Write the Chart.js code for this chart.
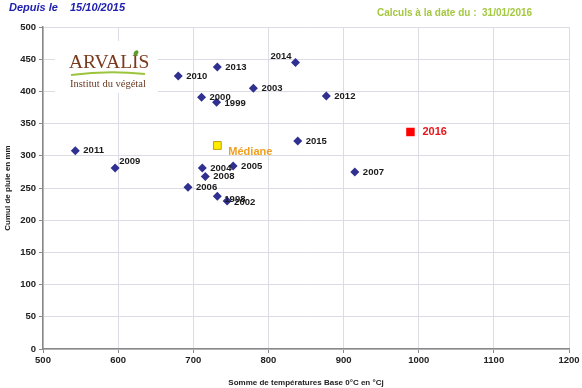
<!DOCTYPE html>
<html>
<head>
<meta charset="utf-8">
<script src="https://cdn.jsdelivr.net/npm/chart.js@4.4.1/dist/chart.umd.min.js"></script>
<style>
  html, body { margin: 0; padding: 0; background: #fff; }
  #wrap { position: relative; width: 582px; height: 388px; }
</style>
</head>
<body>
<div id="wrap"><canvas id="chart" width="582" height="388"></canvas></div>
<script>
// campagnes passees
const years = ['1998', '1999', '2000', '2002', '2003', '2004', '2005', '2006', '2007',
               '2008', '2009', '2010', '2011', '2012', '2013', '2014', '2015'];
const tempSums = [732, 731, 711, 745, 780, 712, 753, 693, 915, 716, 596, 680, 543, 877, 732, 836, 839];
const rainTotals = [237, 383, 391, 230, 405, 281, 284, 251, 275, 268, 281, 424, 308, 393, 438, 445, 323];

// mediane et campagne en cours
const medianLabel = 'Médiane';
const medianValue = [732, 316];
const currentLabel = '2016';
const currentValue = [989, 337];

const xTicks = [500, 600, 700, 800, 900, 1000, 1100, 1200];
const yTicks = [0, 50, 100, 150, 200, 250, 300, 350, 400, 450, 500];

const headerLeft = ['Depuis le', '15/10/2015'];
const headerRight = 'Calculs à la date du :  31/01/2016';

// label placement tweaks (dx, dy from the point)
const labelOffsets = {
  '1998': [7, 3], '1999': [8, 1], '2000': [8, 0], '2002': [7, 1],
  '2014': [-25, -6], '2009': [4, -7]
};

const pointsData = years.map((y, i) => ({ x: tempSums[i], y: rainTotals[i], label: y }));

const labelPlugin = {
  id: 'labels',
  afterDatasetsDraw(chart) {
    const ctx = chart.ctx;
    ctx.save();
    ctx.textBaseline = 'middle';
    ctx.textAlign = 'left';
    // yearly labels
    const meta = chart.getDatasetMeta(0);
    ctx.font = 'bold 9.5px "Liberation Sans", Arial, sans-serif';
    ctx.fillStyle = '#1a1a1a';
    meta.data.forEach((pt, i) => {
      const off = labelOffsets[years[i]] || [8, 0];
      ctx.fillText(years[i], pt.x + off[0], pt.y + off[1]);
    });
    // median
    const m = chart.getDatasetMeta(1).data[0];
    ctx.font = 'bold 11px "Liberation Sans", Arial, sans-serif';
    ctx.fillStyle = '#f0a020';
    ctx.fillText(medianLabel, m.x + 11, m.y + 6);
    // current year
    const c = chart.getDatasetMeta(2).data[0];
    ctx.fillStyle = '#e8141c';
    ctx.fillText(currentLabel, c.x + 12, c.y);
    ctx.restore();
  }
};

const decorPlugin = {
  id: 'decor',
  beforeDraw(chart) {
    const ctx = chart.ctx;
    ctx.save();
    ctx.fillStyle = '#fff';
    ctx.fillRect(0, 0, chart.width, chart.height);
    ctx.restore();
  },
  afterDraw(chart) {
    const ctx = chart.ctx;
    ctx.save();
    ctx.textBaseline = 'middle';
    // header
    ctx.font = 'italic bold 11px "Liberation Sans", Arial, sans-serif';
    ctx.fillStyle = '#2020b0';
    ctx.fillText(headerLeft[0], 9, 8);
    ctx.fillText(headerLeft[1], 70, 8);
    ctx.font = 'bold 10px "Liberation Sans", Arial, sans-serif';
    ctx.fillStyle = '#a4c840';
    ctx.fillText(headerRight, 377, 13);

    // logo
    ctx.fillStyle = '#fff';
    ctx.fillRect(55, 41, 103, 52);
    ctx.font = '19.5px "Liberation Serif", "DejaVu Serif", serif';
    ctx.fillStyle = '#7a3a1c';
    ctx.textAlign = 'left';
    ctx.fillText('ARVALIS', 69, 63);
    ctx.fillStyle = '#5a9e2a';
    ctx.beginPath();
    ctx.ellipse(136, 53, 2, 3, 0.6, 0, Math.PI * 2);
    ctx.fill();
    ctx.strokeStyle = '#9cc43c';
    ctx.lineWidth = 2;
    ctx.beginPath();
    ctx.moveTo(71, 75);
    ctx.quadraticCurveTo(108, 70, 145, 74);
    ctx.stroke();
    ctx.font = '10.5px "Liberation Serif", "DejaVu Serif", serif';
    ctx.fillStyle = '#6a3a20';
    ctx.fillText('Institut du végétal', 70, 84);
    ctx.restore();
  }
};

new Chart(document.getElementById('chart'), {
  type: 'scatter',
  data: {
    datasets: [
      {
        data: pointsData,
        pointStyle: 'rectRot',
        pointRadius: 4.5,
        backgroundColor: '#303090',
        borderColor: '#303090',
        borderWidth: 0
      },
      {
        data: [{ x: medianValue[0], y: medianValue[1] }],
        pointStyle: 'rect',
        pointRadius: 5.5,
        backgroundColor: '#ffee00',
        borderColor: '#c89a00',
        borderWidth: 1
      },
      {
        data: [{ x: currentValue[0], y: currentValue[1] }],
        pointStyle: 'rect',
        pointRadius: 6,
        backgroundColor: '#ff0000',
        borderColor: '#ff0000',
        borderWidth: 0
      }
    ]
  },
  options: {
    responsive: false,
    animation: false,
    layout: { padding: { top: 27, right: 13, left: 3, bottom: 0 } },
    plugins: {
      legend: { display: false },
      tooltip: { enabled: false }
    },
    scales: {
      x: {
        type: 'linear',
        min: 500,
        max: 1200,
        afterBuildTicks: s => { s.ticks = xTicks.map(v => ({ value: v })); },
        afterFit: s => { s.height = 39; },
        grid: { color: '#dcdce4', tickColor: '#888', tickLength: 4 },
        border: { color: '#888', width: 1.5 },
        ticks: {
          color: '#222',
          font: { family: '"Liberation Sans", Arial, sans-serif', size: 9.5, weight: 'bold' },
          padding: 2,
          maxRotation: 0,
          callback: v => String(v)
        },
        title: {
          display: true,
          text: 'Somme de températures Base 0°C en °Cj',
          color: '#222',
          font: { family: '"Liberation Sans", Arial, sans-serif', size: 8, weight: 'bold' },
          padding: { top: 8, bottom: 0 }
        }
      },
      y: {
        type: 'linear',
        min: 0,
        max: 500,
        afterBuildTicks: s => { s.ticks = yTicks.map(v => ({ value: v })); },
        afterFit: s => { s.width = 40; },
        grid: { color: '#dcdce4', tickColor: '#888', tickLength: 4 },
        border: { color: '#888', width: 1.5 },
        ticks: {
          color: '#222',
          font: { family: '"Liberation Sans", Arial, sans-serif', size: 9.5, weight: 'bold' },
          padding: 3,
          callback: v => String(v)
        },
        title: {
          display: true,
          text: 'Cumul de pluie en mm',
          color: '#222',
          font: { family: '"Liberation Sans", Arial, sans-serif', size: 8, weight: 'bold' },
          padding: { top: 0, bottom: 2 }
        }
      }
    }
  },
  plugins: [decorPlugin, labelPlugin]
});
</script>
</body>
</html>
